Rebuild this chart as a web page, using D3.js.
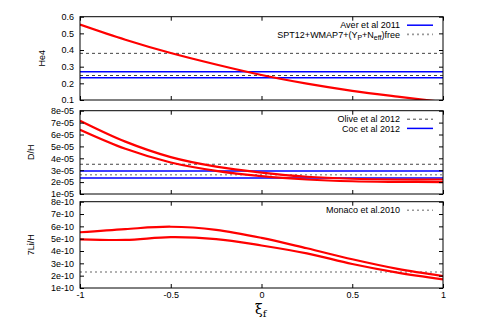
<!DOCTYPE html>
<html>
<head>
<meta charset="utf-8">
<script src="https://cdn.jsdelivr.net/npm/d3@7"></script>
<style>
  body { margin: 0; background: #fff; }
  text { font-family: "Liberation Sans", Arial, sans-serif; fill: #000; }
</style>
</head>
<body>
<div id="chart"></div>
<script>
// x values (xi_f) shared by all curves
var xi = [-1, -0.75, -0.5, -0.25, 0, 0.25, 0.5, 0.75, 1];
var xTicks = [-1, -0.5, 0, 0.5, 1];

// He4 panel
var he4 = [0.553, 0.462, 0.382, 0.313, 0.250, 0.198, 0.155, 0.120, 0.088];
var he4Aver = [0.269, 0.233];
var he4Spt = [0.38, 0.247];
var he4Ticks = [0.1, 0.2, 0.3, 0.4, 0.5, 0.6];

// D/H panel
var dhUpper = [7.16e-5, 5.40e-5, 4.10e-5, 3.30e-5, 2.80e-5, 2.45e-5, 2.28e-5, 2.22e-5, 2.22e-5];
var dhLower = [6.40e-5, 4.80e-5, 3.65e-5, 2.95e-5, 2.50e-5, 2.22e-5, 2.07e-5, 2.02e-5, 2.00e-5];
var dhOlive = [3.5e-5];
var dhGray = [2.62e-5];
var dhCoc = [2.94e-5, 2.34e-5];
var dhTicks = [1e-5, 2e-5, 3e-5, 4e-5, 5e-5, 6e-5, 7e-5, 8e-5];

// 7Li/H panel
var liUpper = [5.52e-10, 5.78e-10, 5.97e-10, 5.72e-10, 5.07e-10, 4.22e-10, 3.33e-10, 2.55e-10, 1.97e-10];
var liLower = [4.95e-10, 4.90e-10, 5.12e-10, 4.97e-10, 4.45e-10, 3.81e-10, 2.95e-10, 2.25e-10, 1.70e-10];
var liMonaco = [2.3e-10];
var liTicks = [1e-10, 2e-10, 3e-10, 4e-10, 5e-10, 6e-10, 7e-10, 8e-10];

var W = 479, H = 335;
var svg = d3.select("#chart").append("svg")
    .attr("width", W).attr("height", H);

var x = d3.scaleLinear().domain([-1, 1]).range([80, 443]);

var dashStyle = {stroke: "#444", width: 1, dash: "3,3"};
var dotStyle = {stroke: "#999", width: 1.6, dash: "2,3"};
var blueStyle = {stroke: "#0000ff", width: 1.5, dash: null};

var panels = [
  {name: "He4", labelX: 42, top: 16.7, bottom: 100, domain: [0.1, 0.6], ticks: he4Ticks,
   fmt: d3.format(".1f"), curves: [he4],
   hlines: [{vals: he4Spt, s: dashStyle}, {vals: he4Aver, s: blueStyle}],
   legend: [{t: "Aver et al 2011", s: blueStyle}, {t: "SPT", s: dotStyle}]},
  {name: "D/H", labelX: 31, top: 110.7, bottom: 194, domain: [1e-5, 8e-5], ticks: dhTicks,
   fmt: function(d) { return Math.round(d * 1e5) + "e-05"; }, curves: [dhUpper, dhLower],
   hlines: [{vals: dhOlive, s: dashStyle}, {vals: dhGray, s: dotStyle}, {vals: dhCoc, s: blueStyle}],
   legend: [{t: "Olive et al 2012", s: dashStyle}, {t: "Coc et al 2012", s: blueStyle}]},
  {name: "7Li/H", labelX: 31, top: 201.7, bottom: 288, domain: [1e-10, 8e-10], ticks: liTicks,
   fmt: function(d) { return Math.round(d * 1e10) + "e-10"; }, curves: [liUpper, liLower],
   hlines: [{vals: liMonaco, s: dotStyle}],
   legend: [{t: "Monaco et al.2010", s: dotStyle}]}
];

panels.forEach(function(p, i) {
  var y = d3.scaleLinear().domain(p.domain).range([p.bottom, p.top]);
  var g = svg.append("g");

  g.append("clipPath").attr("id", "clip" + i)
    .append("rect")
      .attr("x", x(-1)).attr("y", p.top)
      .attr("width", x(1) - x(-1)).attr("height", p.bottom - p.top);

  var plot = g.append("g").attr("clip-path", "url(#clip" + i + ")");

  // reference lines
  p.hlines.forEach(function(h) {
    plot.selectAll(null).data(h.vals).enter().append("line")
      .attr("x1", x(-1)).attr("x2", x(1))
      .attr("y1", function(d) { return y(d); })
      .attr("y2", function(d) { return y(d); })
      .attr("stroke", h.s.stroke)
      .attr("stroke-width", h.s.width)
      .attr("stroke-dasharray", h.s.dash);
  });

  // model curves
  var line = d3.line()
    .curve(d3.curveCatmullRom)
    .x(function(d, k) { return x(xi[k]); })
    .y(function(d) { return y(d); });
  plot.selectAll(null).data(p.curves).enter().append("path")
    .attr("d", line)
    .attr("fill", "none")
    .attr("stroke", "#ff0000")
    .attr("stroke-width", 2.2);

  // axes: left labels, inner ticks on all sides
  var left = g.append("g").attr("transform", "translate(" + x(-1) + ",0)")
    .call(d3.axisLeft(y).tickValues(p.ticks).tickFormat(p.fmt).tickSize(-4).tickPadding(6));
  var right = g.append("g").attr("transform", "translate(" + x(1) + ",0)")
    .call(d3.axisRight(y).tickValues(p.ticks).tickFormat("").tickSize(-4));
  var top = g.append("g").attr("transform", "translate(0," + p.top + ")")
    .call(d3.axisTop(x).tickValues(xTicks).tickFormat("").tickSize(-4));
  var bottom = g.append("g").attr("transform", "translate(0," + p.bottom + ")")
    .call(d3.axisBottom(x).tickValues(xTicks).tickSize(-4)
      .tickFormat(i == 2 ? function(d) { return d; } : "").tickPadding(4));
  [left, right, top, bottom].forEach(function(a) {
    a.select(".domain").remove();
    a.selectAll("text").style("font-size", "9px")
      .style("font-family", "'Liberation Sans', Arial, sans-serif");
    a.selectAll("line").attr("stroke", "#000");
  });

  g.append("rect")
    .attr("x", x(-1)).attr("y", p.top)
    .attr("width", x(1) - x(-1)).attr("height", p.bottom - p.top)
    .attr("fill", "none").attr("stroke", "#000").attr("stroke-width", 1);

  // y label
  g.append("text")
    .attr("transform", "translate(" + p.labelX + "," + ((p.top + p.bottom) / 2) + ") rotate(-90)")
    .attr("text-anchor", "middle")
    .attr("dy", "0.35em")
    .style("font-size", "9px")
    .text(p.name);

  // legend
  p.legend.forEach(function(l, k) {
    var ly = p.top + 8.5 + k * 9.2;
    var t = g.append("text")
      .attr("x", 400).attr("y", ly)
      .attr("dy", "0.35em")
      .attr("text-anchor", "end")
      .style("font-size", "9px");
    if (l.t == "SPT") {
      t.append("tspan").text("SPT12+WMAP7+(Y");
      t.append("tspan").attr("dy", "2").style("font-size", "7px").text("P");
      t.append("tspan").attr("dy", "-2").text("+N");
      t.append("tspan").attr("dy", "2").style("font-size", "7px").text("eff");
      t.append("tspan").attr("dy", "-2").text(")free");
    } else {
      t.text(l.t);
    }
    g.append("line")
      .attr("x1", 407).attr("x2", 433)
      .attr("y1", ly).attr("y2", ly)
      .attr("stroke", l.s.stroke)
      .attr("stroke-width", l.s.width)
      .attr("stroke-dasharray", l.s.dash);
  });
});

// x axis title
var xt = svg.append("text")
  .attr("x", 255).attr("y", 314)
  .style("font-family", "'DejaVu Serif', serif")
  .style("font-size", "14px");
xt.append("tspan").text("ξ");
xt.append("tspan").attr("dy", "3").style("font-size", "10px").text("f");
</script>
</body>
</html>
